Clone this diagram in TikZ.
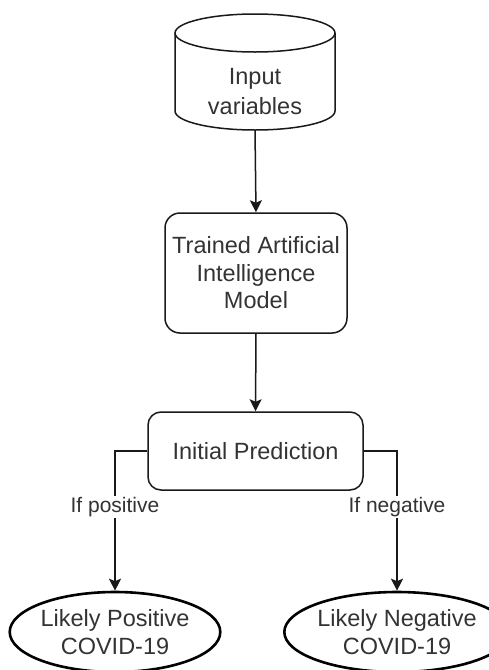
\documentclass[tikz,border=0pt]{standalone}
\usepackage{fontspec}
\setmainfont{Liberation Sans}
\usetikzlibrary{arrows.meta,shapes.geometric}

\tikzset{
  flowline/.style={line width=1.5pt, draw=black!90},
  flowarrow/.style={flowline, -{Stealth[length=12pt, width=12pt, inset=2.5pt]}},
  modelbox/.style={draw=black!90, line width=1.5pt, rounded corners=15pt, align=center,
    text=black!80, font=\fontsize{23.5}{27.5}\selectfont},
  outcome/.style={draw=black, line width=2.6pt, ellipse, align=center, inner sep=0pt,
    text=black!80, font=\fontsize{23.5}{27.5}\selectfont},
  branchlabel/.style={fill=white, inner sep=1pt, text=black!80, font=\fontsize{21}{24}\selectfont}
}

\begin{document}
\begin{tikzpicture}[x=1pt,y=1pt,yscale=-1,xscale=1]
\useasboundingbox (0,0) rectangle (488,670);

%Shape: Cylinder
\draw [flowline] (175,33) -- (175,111) arc[start angle=180, end angle=0, x radius=80, y radius=19] -- (335,33);
\draw [flowline] (255,33) ellipse [x radius=80, y radius=19];
\coordinate (inbot) at (255,130);
% Text Node
\node [align=center, text=black!80, font=\fontsize{23.5}{30}\selectfont] (input) at (255,92) {Input\\variables};

%Shape: Rounded Rect
\node [modelbox, minimum width=182pt, minimum height=120pt] (model) at (256,273) {Trained Artificial\\Intelligence\\Model};

%Shape: Rounded Rect
\node [modelbox, rounded corners=13pt, minimum width=215pt, minimum height=78pt] (pred) at (255.5,451) {Initial Prediction};

%Shape: Ellipse
\node [outcome, minimum width=196pt, minimum height=80pt] (pos) at (115,632) {Likely Positive\\COVID-19};
%Shape: Ellipse
\node [outcome, minimum width=194pt, minimum height=80pt] (neg) at (397,632) {Likely Negative\\COVID-19};

%Connectors
\draw [flowarrow] (inbot) -- (model.north);
\draw [flowarrow] (model.south) -- (pred.north);
\draw [flowarrow] (pred.west) -| (pos.north) node [branchlabel, pos=0.7] (iflabpos) {If positive};
\draw [flowarrow] (pred.east) -| (neg.north) node [branchlabel, pos=0.7] (iflabneg) {If negative};

\end{tikzpicture}
\end{document}
